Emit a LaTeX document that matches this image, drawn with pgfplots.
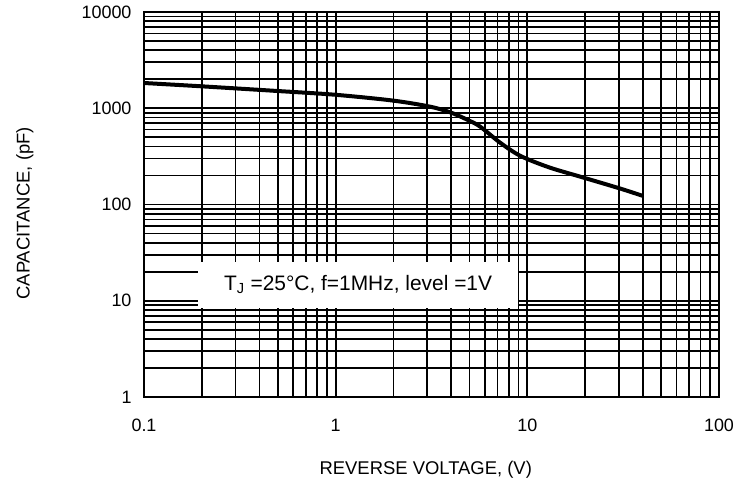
\documentclass[border=0pt]{standalone}
\usepackage{pgfplots}
\pgfplotsset{compat=1.18}
\usepackage{fontspec}
\setmainfont{Liberation Sans}
\begin{document}
\begin{tikzpicture}
\useasboundingbox (-144bp,-96bp) rectangle (611bp,397bp);
\begin{axis}[
  scale only axis, width=575bp, height=385bp,
  xmode=log, ymode=log,
  xmin=0.1, xmax=100, ymin=1, ymax=10000,
  xtick={0.1,1,10,100}, xticklabels={0.1,1,10,100},
  ytick={1,10,100,1000,10000}, yticklabels={1,10,100,1000,10000},
  minor xtick={0.2,0.3,0.4,0.5,0.6,0.7,0.8,0.9,2,3,4,5,6,7,8,9,20,30,40,50,60,70,80,90},
  minor ytick={2,3,4,5,6,7,8,9,20,30,40,50,60,70,80,90,200,300,400,500,600,700,800,900,2000,3000,4000,5000,6000,7000,8000,9000},
  grid=both,
  major grid style={black, line width=1.7bp},
  minor grid style={black, line width=1.7bp},
  axis line style={line width=2.4bp},
  major tick length=0pt, minor tick length=0pt,
  /pgf/number format/assume math mode=true,
  tick label style={font=\fontsize{18}{20}\selectfont},
  xticklabel style={yshift=-18bp, text height=13bp, text depth=0bp},
  yticklabel style={xshift=-9bp},
  xlabel={REVERSE VOLTAGE, (V)},
  ylabel={CAPACITANCE, (pF)},
  label style={font=\fontsize{18.5}{20}\selectfont},
  xlabel style={at={(axis description cs:0.49,-0.19)}, anchor=center},
  ylabel style={at={(axis description cs:-0.207,0.477)}, anchor=center, rotate=0},
]
\addplot[black, line width=4bp, smooth] coordinates {
(0.1,1830) (0.2,1690) (0.5,1510) (1,1380) (2,1200) (3.1,1040) (4,900)
(5.0,740) (5.7,640) (7.2,440) (9.2,320) (13,243) (19,194) (30,148) (40,123)
};
\node[fill=white, minimum width=320bp, minimum height=46bp, inner sep=0pt,
      font=\fontsize{21}{23}\selectfont] at (axis cs:1.31,14.6)
  {T\textsubscript{J} =25°C, f=1MHz, level =1V};
\end{axis}
\end{tikzpicture}
\end{document}
